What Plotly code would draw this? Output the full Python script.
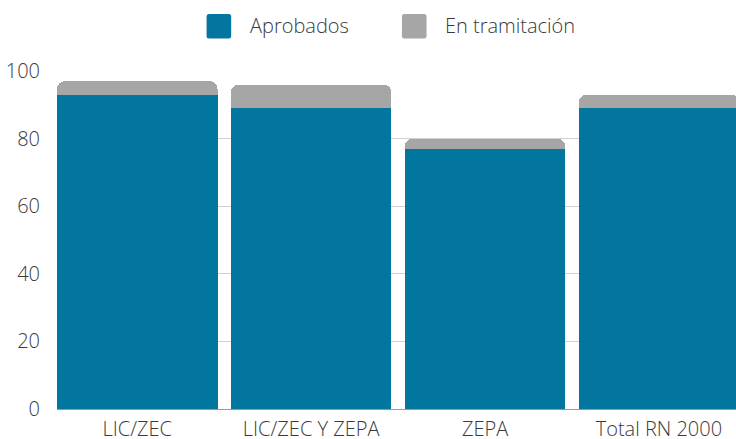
import plotly.graph_objects as go

categories = ["LIC/ZEC", "LIC/ZEC Y ZEPA", "ZEPA", "Total RN 2000"]
aprobados = [93, 89, 77, 89]
en_tramitacion = [4, 7, 3, 4]
series_names = ["Aprobados", "En tramitación"]
series_colors = ["#02769f", "#a6a6a6"]
y_ticks = [0, 20, 40, 60, 80, 100]

W, H = 736, 439
L, R, T, B = 56.5, 0, 70.7, 30.3
pw, ph = W - L - R, H - T - B
BARGAP = 0.0765
PITCH = 174.0  # pixels per category

def px_x(p):
    return (p - L) / pw

def px_y(p):
    return (H - B - p) / ph

fig = go.Figure()
fig.add_trace(go.Bar(x=categories, y=aprobados, name=series_names[0],
                     marker=dict(color=series_colors[0], line=dict(width=0)),
                     showlegend=False))
fig.add_trace(go.Bar(x=categories, y=en_tramitacion, name=series_names[1],
                     marker=dict(color=series_colors[1], line=dict(width=0)),
                     showlegend=False))

font = dict(family="Open Sans, sans-serif", size=20, color="#3a3a3a", weight=300)

# custom legend (large rounded square swatches)
h, r = 12.3, 2.5
swatch_path = (f"M{-h+r},{-h} L{h-r},{-h} Q{h},{-h} {h},{-h+r} L{h},{h-r} "
               f"Q{h},{h} {h-r},{h} L{-h+r},{h} Q{-h},{h} {-h},{h-r} "
               f"L{-h},{-h+r} Q{-h},{-h} {-h+r},{-h} Z")
legend_items = [(218.5, 250), (414, 445)]
for (cx, tx), name, col in zip(legend_items, series_names, series_colors):
    fig.add_shape(type="path", xref="paper", yref="paper",
                  xsizemode="pixel", ysizemode="pixel",
                  xanchor=px_x(cx), yanchor=px_y(26), path=swatch_path,
                  fillcolor=col, line=dict(width=0), layer="above")
    fig.add_annotation(text=name, xref="paper", yref="paper",
                       x=px_x(tx - 2), y=px_y(25), xanchor="left", yanchor="middle",
                       showarrow=False, font=font)

x0 = -0.5 + BARGAP / 2
x1 = x0 + pw / PITCH

fig.update_layout(
    width=W, height=H,
    margin=dict(l=L, r=R, t=T, b=B, pad=0, autoexpand=False),
    barmode="stack", bargap=BARGAP, barcornerradius=8,
    plot_bgcolor="white", paper_bgcolor="white",
    font=font, showlegend=False,
)
fig.update_xaxes(range=[x0, x1], showgrid=False, showline=False, ticks="",
                 tickfont=font, ticklabelstandoff=6, automargin=False)
fig.update_yaxes(range=[0, 100], tickvals=y_ticks, showgrid=True,
                 gridcolor="#d0d0d0", gridwidth=1, zeroline=True,
                 zerolinecolor="#9a9a9a", zerolinewidth=1, showline=False,
                 ticks="", tickfont=font, ticklabelstandoff=16, automargin=False)

fig.write_html("out.html", config={"displayModeBar": False},
               post_script="document.body.style.margin='0';document.body.style.padding='0';")
